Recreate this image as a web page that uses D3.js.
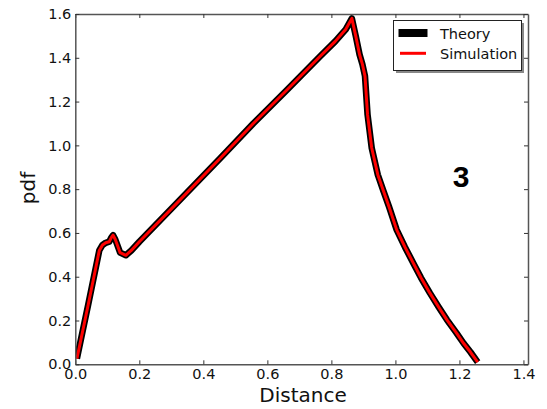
<!DOCTYPE html>
<html><head><meta charset="utf-8">
<script src="https://cdn.jsdelivr.net/npm/d3@7"></script>
<style>body{margin:0;background:#fff}svg{display:block}</style>
</head><body>
<script>
const theoryX = [0.005,0.04,0.075,0.085,0.095,0.106,0.113,0.118,0.125,0.14,0.158,0.175,0.2,0.3,0.452,0.556,0.661,0.765,0.812,0.845,0.864,0.876,0.888,0.897,0.905,0.913,0.926,0.945,0.963,0.98,1.004,1.03,1.056,1.08,1.108,1.135,1.161,1.19,1.213,1.235,1.257];
const theoryY = [0.026,0.27,0.52,0.545,0.555,0.56,0.58,0.59,0.57,0.51,0.498,0.52,0.56,0.71,0.94,1.1,1.253,1.407,1.475,1.53,1.58,1.5,1.415,1.37,1.316,1.14,0.988,0.866,0.79,0.72,0.614,0.535,0.462,0.395,0.325,0.262,0.203,0.145,0.096,0.055,0.01];
const simX = theoryX.slice();
const simY = theoryY.slice();
const xTicks = [0,0.2,0.4,0.6,0.8,1.0,1.2,1.4];
const yTicks = [0,0.2,0.4,0.6,0.8,1.0,1.2,1.4,1.6];
const seriesNames = ["Theory","Simulation"];
const panelLabel = "3";

const W=547,H=409;
const m={l:75.3,r:528,t:14,b:364.3};
const FONT="'DejaVu Sans', sans-serif";
const x=d3.scaleLinear().domain([0,Math.SQRT2]).range([m.l,m.r]);
const y=d3.scaleLinear().domain([0,1.6]).range([m.b,m.t]);
const svg=d3.select("body").append("svg").attr("width",W).attr("height",H);

const line=d3.line().x(d=>x(d[0])).y(d=>y(d[1]));
const th=theoryX.map((v,i)=>[v,theoryY[i]]);
const sm=simX.map((v,i)=>[v,simY[i]]);
svg.append("clipPath").attr("id","c").append("rect").attr("x",m.l).attr("y",m.t-6).attr("width",m.r-m.l).attr("height",m.b-m.t+6);
const g=svg.append("g").attr("clip-path","url(#c)");
g.append("path").datum(th).attr("d",line).attr("fill","none").attr("stroke","#000").attr("stroke-width",6.5).attr("stroke-linejoin","round");
g.append("path").datum(sm).attr("d",line).attr("fill","none").attr("stroke","#f00").attr("stroke-width",3).attr("stroke-linejoin","round");

// axes
const ax=d3.axisBottom(x).tickValues(xTicks).tickFormat(d3.format(".1f")).tickSizeInner(-4).tickSizeOuter(0).tickPadding(6);
const gx=svg.append("g").attr("transform",`translate(0,${m.b})`).call(ax);
const axT=d3.axisTop(x).tickValues(xTicks).tickFormat("").tickSizeInner(-4).tickSizeOuter(0);
const gxt=svg.append("g").attr("transform",`translate(0,${m.t})`).call(axT);
const ay=d3.axisLeft(y).tickValues(yTicks).tickFormat(d3.format(".1f")).tickSizeInner(-4).tickSizeOuter(0).tickPadding(4);
const gy=svg.append("g").attr("transform",`translate(${m.l},0)`).call(ay);
const ayr=d3.axisRight(y).tickValues(yTicks).tickFormat("").tickSizeInner(-4).tickSizeOuter(0);
const gyr=svg.append("g").attr("transform",`translate(${m.r},0)`).call(ayr);
[gx,gxt,gy,gyr].forEach(a=>{a.select(".domain").attr("stroke","#555").attr("stroke-width",1.5);a.selectAll(".tick line").attr("stroke","#333");a.selectAll("text").attr("font-size",14.5).attr("fill","#111").attr("font-family",FONT);});
gx.selectAll("text").attr("dy","0.6em");

svg.append("text").attr("x",303).attr("y",401.5).attr("text-anchor","middle").attr("font-size",20).attr("font-family",FONT).attr("fill","#111").text("Distance");
svg.append("text").attr("transform","translate(35,188) rotate(-90)").attr("text-anchor","middle").attr("font-size",20).attr("font-family",FONT).attr("fill","#111").text("pdf");
svg.append("text").attr("x",461).attr("y",187).attr("text-anchor","middle").attr("font-size",30).attr("font-weight","bold").attr("font-family","'Liberation Sans', Arial, sans-serif").attr("fill","#000").text(panelLabel);

// legend
const lg=svg.append("g");
lg.append("rect").attr("x",396).attr("y",23).attr("width",128).attr("height",50).attr("fill","#888");
lg.append("rect").attr("x",393.5).attr("y",20.5).attr("width",128).attr("height",50).attr("fill","#fff").attr("stroke","#222").attr("stroke-width",1);
lg.append("line").attr("x1",398.5).attr("x2",427.5).attr("y1",33).attr("y2",33).attr("stroke","#000").attr("stroke-width",8);
lg.append("line").attr("x1",400).attr("x2",426).attr("y1",53.3).attr("y2",53.3).attr("stroke","#f00").attr("stroke-width",3);
lg.append("text").attr("x",440).attr("y",38.5).attr("font-size",14.5).attr("font-family",FONT).attr("fill","#111").text(seriesNames[0]);
lg.append("text").attr("x",440).attr("y",58.5).attr("font-size",14.5).attr("font-family",FONT).attr("fill","#111").text(seriesNames[1]);
</script>
</body></html>
